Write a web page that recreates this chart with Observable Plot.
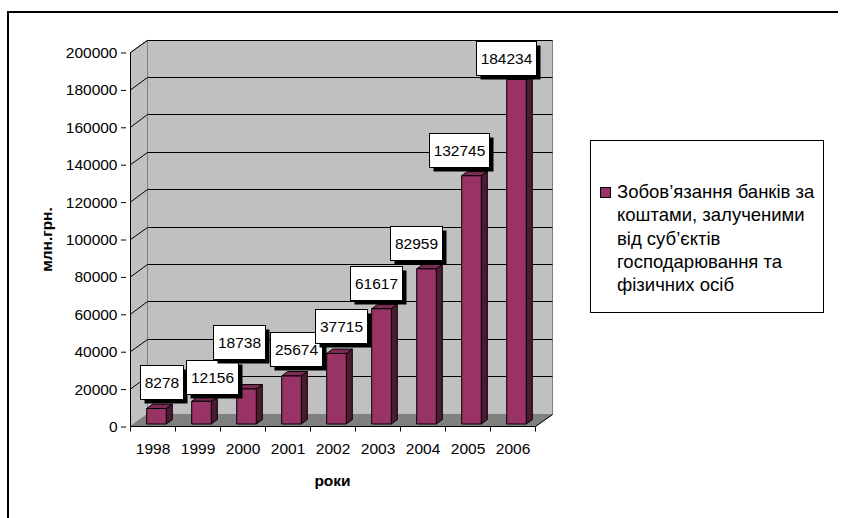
<!DOCTYPE html>
<html>
<head>
<meta charset="utf-8">
<script src="https://cdn.jsdelivr.net/npm/d3@7"></script>
<script src="https://cdn.jsdelivr.net/npm/@observablehq/plot@0.6"></script>
<style>
  html, body { margin: 0; padding: 0; background: #fff; }
  body { font-family: "Liberation Sans", Arial, sans-serif; }
  #wrap { position: relative; width: 843px; height: 518px; overflow: hidden; }
  #wrap svg { position: absolute; left: 0; top: 0; overflow: visible; font-family: "Liberation Sans", Arial, sans-serif; }
  #frame { position: absolute; left: 7px; top: 11px; width: 831px; height: 540px;
           border-left: 2px solid #000; border-top: 2px solid #000; box-sizing: border-box; }
  #legend { position: absolute; left: 590px; top: 140px; width: 234px; height: 173px;
            border: 1px solid #000; box-sizing: border-box; background: #fff; }
  #legend .sw { position: absolute; left: 9px; top: 46px; width: 11px; height: 11px;
                box-sizing: border-box; border: 1px solid #000; }
  #legend .tx { position: absolute; left: 26px; top: 39px; font-size: 18.5px; line-height: 23.3px;
                color: #000; white-space: nowrap; font-family: "Liberation Sans", Arial, sans-serif; }
</style>
</head>
<body>
<div id="wrap"></div>
<script>
// ---- data ----
const years = ["1998", "1999", "2000", "2001", "2002", "2003", "2004", "2005", "2006"];
const values = [8278, 12156, 18738, 25674, 37715, 61617, 82959, 132745, 184234];
const yTicks = [0, 20000, 40000, 60000, 80000, 100000, 120000, 140000, 160000, 180000, 200000];
const yLabel = "млн.грн.";
const xLabel = "роки";
const seriesLines = ["Зобов’язання банків за", "коштами, залученими", "від суб’єктів", "господарювання та", "фізичних осіб"];

const data = years.map((year, i) => ({year, value: values[i]}));

// ---- 3D look (pixel styling) ----
const FONT = "Liberation Sans, Arial, sans-serif";
const DX = 17, DY = -12.5;      // depth of walls
const FX = 4, FY = -2.5;        // bar front plane offset
const SX = 6, SY = -4.4;        // bar depth
const BAR = 0.436;              // bar width fraction of band
const COL_FRONT = "#993366", COL_SIDE = "#4d1a33", COL_TOP = "#7d2a55";
const FS = 15.5;
// manual nudges of the data-label boxes (pixels), as dragged in the original
const labelNudge = {
  "1998": [4.5, -1], "1999": [10, 1], "2000": [-8, -21.5], "2001": [4.5, -1], "2002": [4, -2],
  "2003": [-5.5, 0], "2004": [-10.5, 0], "2005": [-12.5, 0], "2006": [-11, 4]
};

const crisp = v => Math.round(v - 0.5) + 0.5;

function fmark(draw) {
  return function(...args) {
    const scales = args.find(a => a && typeof a.x === "function" && typeof a.y === "function");
    return draw(scales);
  };
}
function bandInfo(x) {
  const bw = typeof x.bandwidth === "function" ? x.bandwidth() : (x(years[1]) - x(years[0]));
  return {bw, x0: x(years[0]), x1: x(years[years.length - 1]) + bw};
}

const walls = fmark(({x, y}) => {
  const {x0, x1, bw} = bandInfo(x);
  const y0 = y(0), yT = y(yTicks[yTicks.length - 1]);
  const g = d3.create("svg:g");
  // back wall
  g.append("rect").attr("x", crisp(x0 + DX)).attr("y", crisp(yT + DY))
    .attr("width", Math.round(x1 - x0)).attr("height", Math.round(y0 - yT))
    .attr("fill", "#c0c0c0").attr("stroke", "#808080");
  // side wall
  g.append("path").attr("d", `M${crisp(x0)},${y0}L${crisp(x0 + DX)},${y0 + DY}L${crisp(x0 + DX)},${yT + DY}L${crisp(x0)},${yT}Z`)
    .attr("fill", "#c0c0c0").attr("stroke", "#808080");
  // gridlines on side + back wall
  for (const t of yTicks) {
    if (t === 0) continue;
    const yy = y(t);
    g.append("path").attr("d", `M${crisp(x0)},${yy}L${crisp(x0 + DX)},${crisp(yy + DY)}L${crisp(x1 + DX)},${crisp(yy + DY)}`)
      .attr("fill", "none").attr("stroke", "#000");
  }
  // floor
  g.append("path").attr("d", `M${crisp(x0)},${crisp(y0)}L${crisp(x1)},${crisp(y0)}L${crisp(x1 + DX)},${crisp(y0 + DY)}L${crisp(x0 + DX)},${crisp(y0 + DY)}Z`)
    .attr("fill", "#808080").attr("stroke", "#808080");
  g.append("path").attr("d", `M${crisp(x1)},${crisp(y0)}L${crisp(x1 + DX)},${crisp(y0 + DY)}`)
    .attr("stroke", "#000");
  // axis lines
  g.append("path").attr("d", `M${crisp(x0)},${yT}L${crisp(x0)},${crisp(y0)}L${crisp(x1)},${crisp(y0)}`)
    .attr("fill", "none").attr("stroke", "#000");
  // category boundary ticks
  for (let i = 0; i <= years.length; i++) {
    const xx = crisp(x0 + i * bw);
    g.append("path").attr("d", `M${xx},${crisp(y0)}V${crisp(y0) + 5}`).attr("stroke", "#000");
  }
  // axis titles
  g.append("text").attr("transform", `translate(${x0 - 83},${(y0 + yT) / 2}) rotate(-90)`)
    .attr("text-anchor", "middle").attr("dy", "0.35em").attr("font-family", FONT)
    .attr("font-weight", "bold").attr("font-size", 15.5).attr("fill", "#000").text(yLabel);
  g.append("text").attr("x", (x0 + x1) / 2).attr("y", y0 + 59).attr("font-family", FONT)
    .attr("text-anchor", "middle").attr("font-weight", "bold").attr("font-size", 15.5)
    .attr("fill", "#000").text(xLabel);
  return g.node();
});

const bars = fmark(({x, y}) => {
  const {bw} = bandInfo(x);
  const g = d3.create("svg:g").attr("stroke", "#000").attr("stroke-linejoin", "round");
  for (const d of data) {
    const cx = x(d.year) + bw / 2 + FX;
    const w = bw * BAR;
    const l = cx - w / 2, r = cx + w / 2;
    const yb = y(0) + FY, yt = y(d.value) + FY;
    g.append("path").attr("d", `M${r},${yb}L${r + SX},${yb + SY}L${r + SX},${yt + SY}L${r},${yt}Z`).attr("fill", COL_SIDE);
    g.append("path").attr("d", `M${l},${yt}L${l + SX},${yt + SY}L${r + SX},${yt + SY}L${r},${yt}Z`).attr("fill", COL_TOP);
    g.append("rect").attr("x", l).attr("y", yt).attr("width", w).attr("height", yb - yt).attr("fill", COL_FRONT);
  }
  return g.node();
});

const labels = fmark(({x, y}) => {
  const {bw} = bandInfo(x);
  const g = d3.create("svg:g");
  for (const d of data) {
    const s = String(d.value);
    const [nx, ny] = labelNudge[d.year] || [0, 0];
    const cx = x(d.year) + bw / 2 + FX + nx;
    const wBox = Math.round(s.length * 0.556 * FS + 8.5);
    const hBox = 34;
    const bottom = y(d.value) - 11 + ny;
    const left = Math.round(cx - wBox / 2) + 0.5, top = Math.round(bottom - hBox) + 0.5;
    g.append("rect").attr("x", left + 4).attr("y", top + 4).attr("width", wBox).attr("height", hBox).attr("fill", "#000");
    g.append("rect").attr("x", left).attr("y", top).attr("width", wBox).attr("height", hBox)
      .attr("fill", "#fff").attr("stroke", "#000");
    g.append("text").attr("x", left + wBox / 2).attr("y", top + hBox / 2).attr("dy", "0.36em")
      .attr("font-family", FONT).attr("text-anchor", "middle").attr("font-size", FS).attr("fill", "#000").text(s);
  }
  return g.node();
});

const chart = Plot.plot({
  width: 843,
  height: 518,
  marginLeft: 126,
  marginRight: 304,
  marginTop: 52.5,
  marginBottom: 91.5,
  style: {fontFamily: FONT, fontSize: "15.5px", color: "#000", background: "transparent"},
  x: {type: "band", domain: years, padding: 0, label: null},
  y: {domain: [0, 200000], label: null},
  marks: [
    walls,
    Plot.axisY({ticks: yTicks, tickFormat: d3.format("d"), tickSize: 5, tickPadding: 4, fontSize: 15.5, label: null, stroke: "#000"}),
    Plot.axisX({tickSize: 0, tickPadding: 16, fontSize: 15.5, label: null}),
    bars,
    labels
  ]
});

const wrap = document.getElementById("wrap");
wrap.appendChild(chart);
const frame = document.createElement("div");
frame.id = "frame";
wrap.appendChild(frame);

const legend = document.createElement("div");
legend.id = "legend";
const sw = document.createElement("div");
sw.className = "sw";
sw.style.background = COL_FRONT;
legend.appendChild(sw);
const tx = document.createElement("div");
tx.className = "tx";
seriesLines.forEach((line, i) => {
  if (i) tx.appendChild(document.createElement("br"));
  tx.appendChild(document.createTextNode(line));
});
legend.appendChild(tx);
wrap.appendChild(legend);
</script>
</body>
</html>
